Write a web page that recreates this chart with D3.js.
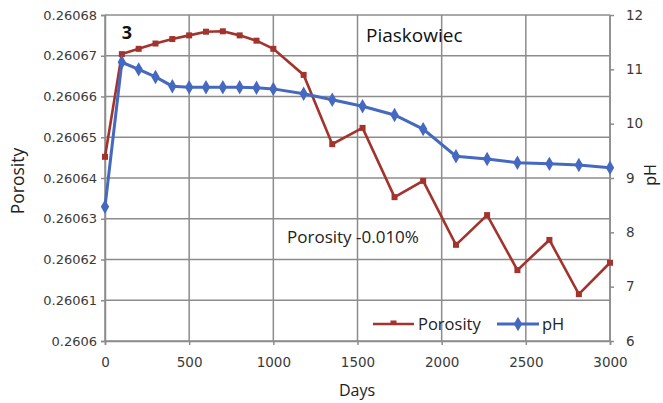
<!DOCTYPE html>
<html><head><meta charset="utf-8">
<script src="https://cdn.jsdelivr.net/npm/d3@7"></script>
<style>body{margin:0;background:#fff}svg{display:block}</style>
</head><body><svg id="c" width="663" height="403"></svg>
<script>
const days = [0,100,200,300,400,500,600,700,800,900,1000,1180,1350,1530,1720,1890,2085,2270,2450,2640,2815,3000];
const porosity = [0.2606452,0.2606704,0.2606717,0.260673,0.2606741,0.260675,0.2606759,0.260676,0.260675,0.2606737,0.2606717,0.2606653,0.2606483,0.2606523,0.2606353,0.2606393,0.2606236,0.2606309,0.2606174,0.2606248,0.2606115,0.2606192];
const ph = [8.47,11.13,11.0,10.86,10.69,10.67,10.67,10.67,10.67,10.66,10.64,10.55,10.44,10.32,10.16,9.9,9.4,9.35,9.28,9.26,9.24,9.19];
const xTicks = [0,500,1000,1500,2000,2500,3000];
const yTicks = [0.2606,0.26061,0.26062,0.26063,0.26064,0.26065,0.26066,0.26067,0.26068];
const yTickLabels = ["0.2606","0.26061","0.26062","0.26063","0.26064","0.26065","0.26066","0.26067","0.26068"];
const phTicks = [6,7,8,9,10,11,12];

const svg = d3.select("#c");
const x = d3.scaleLinear().domain([0,3000]).range([105,610]);
const yL = d3.scaleLinear().domain([0.2606,0.26068]).range([341,15]);
const yR = d3.scaleLinear().domain([6,12]).range([341,15]);
const gridC = "#8c8c8c", red = "#a3332d", blue = "#4569c0";
const tickFont = "'DejaVu Sans', sans-serif", txtFont = "'Open Sans', sans-serif";

// gridlines
svg.append("g").selectAll("line").data(yTicks).join("line")
  .attr("x1",x(0)).attr("x2",x(3000)).attr("y1",d=>yL(d)).attr("y2",d=>yL(d))
  .attr("stroke",gridC).attr("stroke-width",1.5);
svg.append("g").selectAll("line").data(xTicks).join("line")
  .attr("x1",d=>x(d)).attr("x2",d=>x(d)).attr("y1",yL(0.26068)).attr("y2",yL(0.2606))
  .attr("stroke",gridC).attr("stroke-width",1.5);

// axes
const axL = svg.append("g").attr("transform","translate(105,0)")
  .call(d3.axisLeft(yL).tickValues(yTicks).tickFormat((d,i)=>yTickLabels[i]).tickSize(4).tickPadding(4));
const axB = svg.append("g").attr("transform","translate(0,341)")
  .call(d3.axisBottom(x).tickValues(xTicks).tickFormat(d=>String(d)).tickSize(4).tickPadding(12));
const axR = svg.append("g").attr("transform","translate(610,0)")
  .call(d3.axisRight(yR).tickValues(phTicks).tickFormat(d=>String(d)).tickSize(4).tickPadding(12));
[axL,axB,axR].forEach(a=>{
  a.select(".domain").attr("stroke",gridC).attr("stroke-width",1.5);
  a.selectAll(".tick line").attr("stroke",gridC).attr("stroke-width",1.5);
  a.selectAll("text").attr("font-family",tickFont).attr("font-size",13.5).attr("fill","#3a3a3a");
});
axL.selectAll("text").attr("font-size",13);
axR.select(".domain").attr("d","M0,15V341");

// porosity line
svg.append("path").datum(days.map((d,i)=>[d,porosity[i]]))
  .attr("fill","none").attr("stroke",red).attr("stroke-width",2.6)
  .attr("d",d3.line().x(d=>x(d[0])).y(d=>yL(d[1])));
svg.append("g").selectAll("rect").data(days.map((d,i)=>[d,porosity[i]])).join("rect")
  .attr("x",d=>x(d[0])-3).attr("y",d=>yL(d[1])-3).attr("width",6).attr("height",6).attr("fill",red);

// pH line
svg.append("path").datum(days.map((d,i)=>[d,ph[i]]))
  .attr("fill","none").attr("stroke",blue).attr("stroke-width",3)
  .attr("d",d3.line().x(d=>x(d[0])).y(d=>yR(d[1])));
const diamond = d3.symbol().type(d3.symbolDiamond).size(60);
svg.append("g").selectAll("path").data(days.map((d,i)=>[d,ph[i]])).join("path")
  .attr("transform",d=>`translate(${x(d[0])},${yR(d[1])})`).attr("d",diamond).attr("fill",blue);

// texts
svg.append("text").attr("x",127).attr("y",39).attr("text-anchor","middle")
  .attr("font-family",txtFont).attr("font-weight","bold").attr("font-size",18).attr("fill","#111").text("3");
svg.append("text").attr("x",366).attr("y",42)
  .attr("font-family",txtFont).attr("font-size",19).attr("fill","#111").text("Piaskowiec");
svg.append("text").attr("x",287).attr("y",243)
  .attr("font-family",txtFont).attr("font-size",17).attr("fill","#222").text("Porosity -0.010%");
svg.append("text").attr("x",357).attr("y",396).attr("text-anchor","middle")
  .attr("font-family",txtFont).attr("font-size",16).attr("fill","#222").text("Days");
svg.append("text").attr("transform","translate(24,181) rotate(-90)").attr("text-anchor","middle")
  .attr("font-family",txtFont).attr("font-size",17.5).attr("fill","#222").text("Porosity");
svg.append("text").attr("transform","translate(656,175) rotate(-90)").attr("text-anchor","middle")
  .attr("font-family",txtFont).attr("font-size",16).attr("fill","#222").text("pH");

// legend
const lg = svg.append("g");
lg.append("line").attr("x1",373).attr("x2",414).attr("y1",324).attr("y2",324).attr("stroke",red).attr("stroke-width",2.6);
lg.append("rect").attr("x",390.5).attr("y",320.5).attr("width",6).attr("height",4).attr("fill",red);
lg.append("text").attr("x",418).attr("y",330).attr("font-family",txtFont).attr("font-size",16.5).attr("fill","#222").text("Porosity");
lg.append("line").attr("x1",497).attr("x2",539).attr("y1",324).attr("y2",324).attr("stroke",blue).attr("stroke-width",3);
lg.append("path").attr("transform","translate(518,324)").attr("d",diamond).attr("fill",blue);
lg.append("text").attr("x",542).attr("y",330).attr("font-family",txtFont).attr("font-size",16.5).attr("fill","#222").text("pH");
</script></body></html>
